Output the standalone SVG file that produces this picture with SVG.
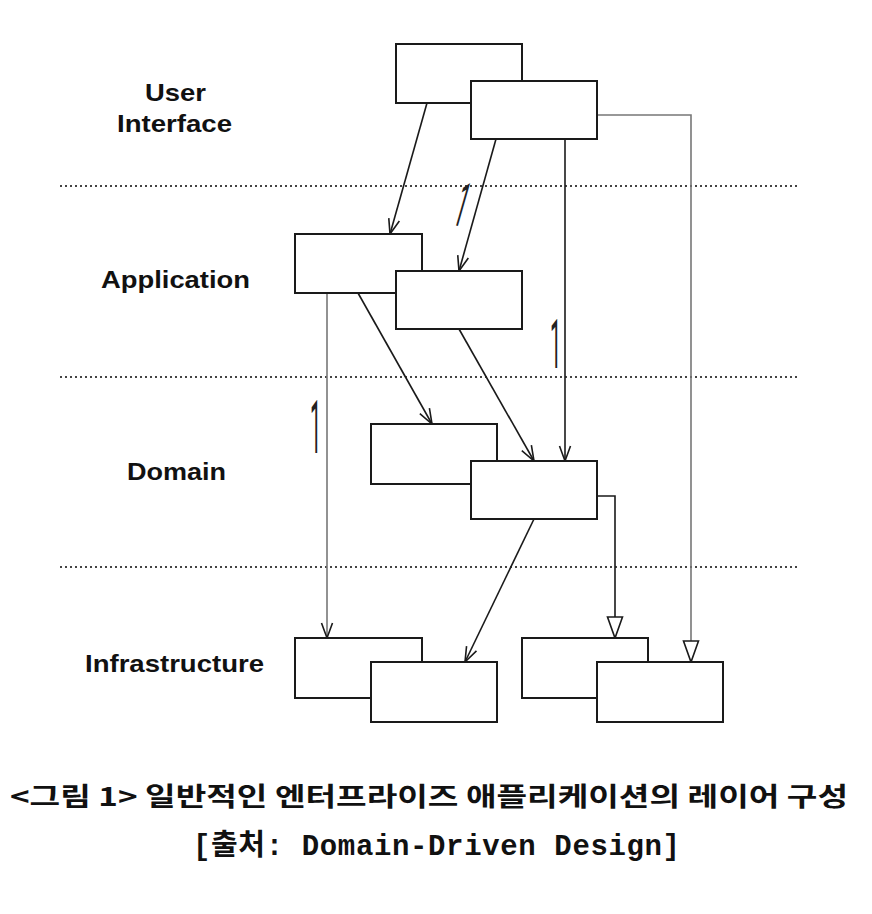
<svg xmlns="http://www.w3.org/2000/svg" width="872" height="914" viewBox="0 0 872 914">
<style>
.bg{fill:#fff}
.box{fill:#fff;stroke:#1a1a1a;stroke-width:2}
.layer{font-family:"Liberation Sans",Arial,sans-serif;font-weight:bold;font-size:24px;fill:#111}
.sep{stroke:#444;stroke-width:2;stroke-dasharray:2,3}
.conn{fill:none;stroke:#1a1a1a;stroke-width:1.6}
.gray{stroke:#777}
.mult{font-family:Roboto,"Open Sans",sans-serif;font-size:20px;fill:#222}
.cap{font-family:"Noto Sans CJK KR","Liberation Sans",sans-serif;font-weight:bold;font-size:26px;fill:#111}
.src{font-family:"Liberation Mono","Noto Sans CJK KR",monospace;font-weight:bold;font-size:29px;fill:#111}
</style>
<defs>
<marker id="open" markerUnits="userSpaceOnUse" markerWidth="20" markerHeight="16" viewBox="-16 -8 18 16" refX="0" refY="0" orient="auto">
<path d="M-15,-5.5 L0,0 L-15,5.5" fill="none" stroke="#1a1a1a" stroke-width="1.6"/>
</marker>
<marker id="tri" markerUnits="userSpaceOnUse" markerWidth="26" markerHeight="20" viewBox="-23 -10 25 20" refX="0" refY="0" orient="auto">
<path d="M-21,-7.5 L0,0 L-21,7.5 Z" fill="#fff" stroke="#1a1a1a" stroke-width="1.6"/>
</marker>
</defs>
<rect class="bg" x="0" y="0" width="872" height="914"/>

<g id="separators">
<line class="sep" x1="60" y1="186" x2="800" y2="186"/>
<line class="sep" x1="60" y1="377" x2="800" y2="377"/>
<line class="sep" x1="60" y1="567" x2="800" y2="567"/>
</g>

<g id="labels">
<text class="layer" x="145" y="101" textLength="61" lengthAdjust="spacingAndGlyphs">User</text>
<text class="layer" x="117" y="132" textLength="115" lengthAdjust="spacingAndGlyphs">Interface</text>
<text class="layer" x="101" y="288" textLength="149" lengthAdjust="spacingAndGlyphs">Application</text>
<text class="layer" x="127" y="480" textLength="99" lengthAdjust="spacingAndGlyphs">Domain</text>
<text class="layer" x="85" y="672" textLength="179" lengthAdjust="spacingAndGlyphs">Infrastructure</text>
</g>

<g id="connectors">
<path class="conn gray" d="M597,115 L691,115 L691,662" marker-end="url(#tri)"/>
<path class="conn" d="M597,496 L615,496 L615,638" marker-end="url(#tri)"/>
<path class="conn" d="M427,103 L390,234" marker-end="url(#open)"/>
<path class="conn" d="M496,139 L459,271" marker-end="url(#open)"/>
<path class="conn" d="M565,139 L565,461" marker-end="url(#open)"/>
<path class="conn gray" d="M327,293 L327,638" marker-end="url(#open)"/>
<path class="conn" d="M358,293 L432,424" marker-end="url(#open)"/>
<path class="conn" d="M459,329 L534,461" marker-end="url(#open)"/>
<path class="conn" d="M534,519 L465,662" marker-end="url(#open)"/>
</g>

<g id="ui-1"><rect class="box" x="396" y="44" width="126" height="59"/></g>
<g id="ui-2"><rect class="box" x="471" y="81" width="126" height="58"/></g>
<g id="app-1"><rect class="box" x="295" y="234" width="127" height="59"/></g>
<g id="app-2"><rect class="box" x="396" y="271" width="126" height="58"/></g>
<g id="domain-1"><rect class="box" x="371" y="424" width="126" height="60"/></g>
<g id="domain-2"><rect class="box" x="471" y="461" width="126" height="58"/></g>
<g id="infra-1"><rect class="box" x="295" y="638" width="127" height="60"/></g>
<g id="infra-2"><rect class="box" x="371" y="662" width="126" height="60"/></g>
<g id="infra-3"><rect class="box" x="522" y="638" width="126" height="60"/></g>
<g id="infra-4"><rect class="box" x="597" y="662" width="126" height="60"/></g>

<g id="multiplicities">
<text class="mult" transform="translate(451,224) rotate(16) scale(1,3.1)">1</text>
<text class="mult" transform="translate(550,368) scale(1,3.4)">1</text>
<text class="mult" transform="translate(310,453) scale(1,3.7)">1</text>
</g>

<g id="caption">
<text class="cap" x="10" y="806" textLength="838" lengthAdjust="spacingAndGlyphs">&lt;그림 1&gt; 일반적인 엔터프라이즈 애플리케이션의 레이어 구성</text>
<text class="src" x="193" y="855" textLength="487" lengthAdjust="spacing">[출처: Domain-Driven Design]</text>
</g>
</svg>
